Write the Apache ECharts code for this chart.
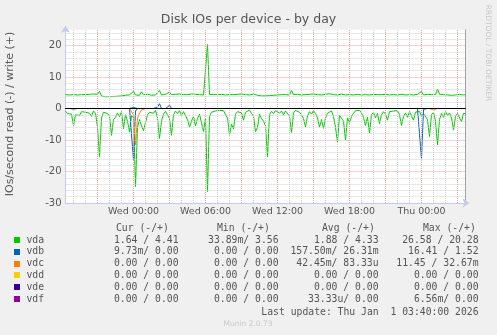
<!DOCTYPE html>
<html><head><meta charset="utf-8">
<script src="https://cdn.jsdelivr.net/npm/echarts@6/dist/echarts.min.js"></script>
<style>html,body{margin:0;padding:0;background:#f0f0f0;}#c{width:497px;height:335px;}</style>
</head><body><div id="c"></div>
<script>
// ---- time base (hours relative to Wed 00:00), 10-minute samples ----
const startHour = -17 / 3;   // Tue 18:20
const endHour = 83 / 3;      // Thu 03:40
const stepHours = 1 / 6;

// ---- vda (IOs/s): read plotted downward, write upward ----
const vdaRead = [
  0.8, 1.6, 1.2, 1.8, 5.4, 2.0, 2.6, 2.2, 1.0, 0.7,
  1.2, 0.6, 1.5, 2.5, 0.8, 1.5, 6.0, 15.3, 3.0, 1.2,
  0.7, 1.6, 2.4, 8.5, 3.5, 2.8, 1.4, 2.6, 1.0, 6.4,
  2.0, 4.0, 7.5, 2.2, 3.0, 24.8, 6.0, 3.5, 5.5, 7.0,
  4.5, 2.0, 1.2, 0.8, 1.5, 0.6, 3.0, 9.5, 4.0, 1.8,
  0.9, 1.4, 3.2, 8.5, 2.0, 0.8, 1.6, 0.7, 2.2, 1.0,
  1.4, 3.5, 5.9, 4.0, 2.5, 5.5, 3.2, 1.8, 2.0, 7.3,
  3.0, 26.4, 2.5, 1.2, 1.6, 0.8, 1.3, 0.6, 1.0, 0.7,
  1.2, 3.0, 8.5, 5.0, 6.5, 1.8, 1.0, 0.6, 1.4, 3.7,
  1.2, 0.7, 0.5, 1.6, 2.5, 7.3, 6.0, 1.8, 3.2, 4.0,
  5.5, 15.3, 2.0, 0.9, 1.6, 0.7, 1.2, 1.5, 0.8, 2.0,
  0.8, 1.0, 2.4, 7.6, 1.4, 0.6, 0.9, 1.2, 2.0, 3.2,
  5.9, 2.4, 1.0, 1.8, 0.7, 1.6, 3.0, 5.9, 3.5, 6.3,
  3.0, 1.5, 1.0, 0.8, 2.5, 6.0, 10.6, 2.2, 1.6, 4.0,
  10.0, 3.0, 4.7, 2.5, 1.5, 0.7, 1.0, 0.6, 1.4, 2.8,
  5.4, 2.8, 7.8, 2.0, 1.2, 3.0, 1.6, 4.8, 2.0, 1.0,
  1.8, 3.7, 1.0, 0.6, 0.8, 1.2, 0.7, 2.0, 5.4, 2.5,
  1.4, 2.8, 1.0, 1.6, 3.7, 1.2, 1.8, 0.9, 2.5, 1.6,
  1.0, 3.5, 8.9, 2.0, 1.2, 4.0, 11.6, 3.5, 1.6, 2.8,
  1.0, 2.2, 1.4, 3.0, 6.8, 2.5, 1.6, 2.0, 4.2, 1.5, 1.64
];
const vdaWrite = [
  4.4, 4.5, 4.3, 4.6, 4.4, 4.5, 4.3, 4.5, 4.4, 4.6,
  4.4, 4.3, 4.5, 4.4, 4.6, 4.4, 4.5, 5.4, 4.0, 3.8,
  3.7, 3.9, 3.8, 4.0, 3.8, 4.1, 3.9, 3.8, 4.0, 3.9,
  4.2, 4.0, 4.3, 4.4, 5.5, 4.3, 4.4, 4.2, 5.3, 4.4,
  4.3, 4.5, 4.4, 4.2, 4.4, 4.3, 4.5, 5.7, 4.3, 4.4,
  4.5, 4.3, 5.2, 4.4, 4.3, 4.5, 4.4, 4.6, 4.3, 4.4,
  4.5, 4.4, 4.3, 4.6, 4.4, 4.5, 4.3, 4.4, 4.5, 4.3,
  4.6, 20.3, 4.5, 4.3, 4.4, 4.6, 4.4, 4.3, 4.5, 4.4,
  4.3, 4.5, 4.4, 4.8, 4.4, 4.3, 4.5, 4.4, 4.6, 4.3,
  4.4, 4.5, 4.3, 4.4, 4.6, 4.4, 4.2, 4.1, 4.0, 4.2,
  4.0, 4.3, 4.1, 4.0, 4.2, 4.1, 4.3, 4.2, 4.4, 4.3,
  4.4, 4.5, 4.3, 5.7, 4.4, 4.3, 4.5, 4.4, 4.3, 4.6,
  4.4, 4.3, 4.5, 4.4, 4.6, 4.3, 4.4, 4.5, 4.3, 4.4,
  4.5, 4.4, 4.7, 4.3, 4.4, 4.5, 4.3, 4.4, 4.6, 4.4,
  4.3, 4.5, 4.4, 4.6, 4.3, 4.4, 4.5, 4.4, 4.3, 4.5,
  4.4, 4.6, 4.3, 4.4, 4.5, 4.3, 4.4, 4.6, 4.4, 4.3,
  4.5, 4.4, 4.3, 4.7, 4.4, 4.5, 4.3, 4.4, 4.5, 4.4,
  4.3, 4.5, 4.4, 4.6, 4.3, 4.4, 4.5, 4.4, 5.4, 4.3,
  4.4, 4.5, 4.3, 4.4, 4.6, 4.4, 6.2, 4.5, 4.3, 4.4,
  4.5, 4.3, 4.4, 4.2, 4.0, 4.3, 4.4, 4.5, 4.2, 4.3, 4.41
];
// ---- vdb ----
const vdbRead = [
  0, 0.3, 0, 0, 0.2, 0, 0, 0, 0, 0,
  0, 0, 0, 0, 0, 0, 0, 0, 0, 0,
  0, 0, 0, 0, 0, 0, 0, 0, 0, 0,
  0, 0, 0, 0.5, 16.4, 0.8, 0, 0, 0, 0,
  0, 0, 0, 0, 0, 0, 0, 0, 0, 0,
  0, 0, 0, 0, 0, 0, 0, 0, 0, 0,
  0, 0, 0, 0, 0, 0, 0, 0, 0, 0,
  0, 0, 0, 0, 0, 0, 0, 0, 0, 0,
  0, 0, 0, 0, 0, 0, 0, 0, 0, 0,
  0, 0, 0, 0, 0, 0, 0, 0, 0, 0,
  0, 0, 0, 0, 0, 0, 0, 0, 0, 0,
  0, 0, 0, 0, 0, 0, 0, 0, 0, 0,
  0, 0, 0, 0, 0, 0, 0, 0, 0, 0,
  0, 0, 0, 0, 0, 0, 0, 0, 0, 0,
  0, 0, 0, 0, 0, 0, 0, 0, 0, 0,
  0, 0, 0, 0, 0, 0, 0, 0, 0, 0,
  0, 0, 0, 0, 0, 0, 0, 0, 0, 0,
  0, 0, 0, 0, 0, 0, 0, 0.4, 16.1, 0.3,
  0, 0, 0, 0, 0, 0, 0, 0, 0, 0,
  0, 0, 0, 0, 0, 0, 0, 0, 0, 0, 0.01
];
const vdbWrite = [
  0, 0, 0, 0, 0, 0, 0, 0, 0, 0,
  0, 0, 0, 0, 0, 0, 0, 0, 0, 0,
  0, 0, 0, 0, 0, 0, 0, 0, 0, 0,
  0, 0, 0, 0, 0.3, 0, 0, 0, 0, 0,
  0, 0, 0, 0, 0, 0, 0.5, 1.52, 0, 0,
  0, 0, 1.0, 0, 0, 0, 0, 0, 0, 0,
  0, 0, 0, 0, 0, 0, 0, 0, 0, 0,
  0, 0, 0, 0, 0, 0, 0, 0, 0, 0,
  0, 0, 0, 0, 0, 0, 0, 0, 0, 0,
  0, 0, 0, 0, 0, 0, 0, 0, 0, 0,
  0, 0, 0, 0, 0, 0, 0, 0, 0, 0,
  0, 0, 0, 0, 0, 0, 0, 0, 0, 0,
  0, 0, 0, 0, 0, 0, 0, 0, 0, 0,
  0, 0, 0, 0, 0, 0, 0, 0, 0, 0,
  0, 0, 0, 0, 0, 0, 0, 0, 0, 0,
  0, 0, 0, 0, 0, 0, 0, 0, 0, 0,
  0, 0, 0, 0, 0, 0, 0, 0, 0, 0,
  0, 0, 0, 0, 0, 0, 0, 0, 0, 0,
  0, 0, 0, 0, 0, 0, 0, 0, 0, 0,
  0, 0, 0, 0, 0, 0, 0, 0, 0, 0, 0
];
// ---- vdc ----
const vdcRead = [
  0, 0, 0, 0, 0, 0, 0, 0, 0, 0,
  0, 0, 0, 0, 0, 0, 0, 0, 0, 0,
  0, 0, 0, 0, 0, 0, 0, 0, 0, 0,
  0, 0, 0, 0, 2.0, 11.45, 3.0, 1.5, 0.5, 1.0,
  0, 0, 0, 0, 0, 0, 0, 0, 0, 0,
  0, 0, 0, 0, 0, 0, 0, 0, 0, 0,
  0, 0, 0, 0, 0, 0, 0, 0, 0, 0,
  0, 0, 0, 0, 0, 0, 0, 0, 0, 0,
  0, 0, 0, 0, 0, 0, 0, 0, 0, 0,
  0, 0, 0, 0, 0, 0, 0, 0, 0, 0,
  0, 0, 0, 0, 0, 0, 0, 0, 0, 0,
  0, 0, 0, 0, 0, 0, 0, 0, 0, 0,
  0, 0, 0, 0, 0, 0, 0, 0, 0, 0,
  0, 0, 0, 0, 0, 0, 0, 0, 0, 0,
  0, 0, 0, 0, 0, 0, 0, 0, 0, 0,
  0, 0, 0, 0, 0, 0, 0, 0, 0, 0,
  0, 0, 0, 0, 0, 0, 0, 0, 0, 0,
  0, 0, 0, 0, 0, 0, 0, 0, 0, 0,
  0, 0, 0, 0, 0.5, 0, 0, 0, 0, 0,
  0, 0, 0, 0, 0, 0, 0, 0, 0, 0, 0
];
// vdc write, vdd, vde, vdf: flat at zero over the whole window
const edgeHours = [startHour, endHour];
const vdcWrite = [0, 0];
const vddRead = [0, 0];
const vddWrite = [0, 0];
const vdeRead = [0, 0];
const vdeWrite = [0, 0];
const vdfRead = [0, 0];
const vdfWrite = [0, 0];

// ---- axes ----
const xTickHours = [0, 6, 12, 18, 24];
const xTickLabels = ['Wed 00:00', 'Wed 06:00', 'Wed 12:00', 'Wed 18:00', 'Thu 00:00'];
const yTickValues = [-30, -20, -10, 0, 10, 20];
const hourGrid = [-5,-4,-2,-1,1,2,4,5,7,8,10,11,13,14,16,17,19,20,22,23,25,26];
const threeHourGrid = [-3, 0, 3, 6, 9, 12, 15, 18, 21, 24, 27];
const yMinorGrid = [-28,-26,-24,-22,-18,-16,-14,-12,-8,-6,-4,-2,2,4,6,8,12,14,16,18,22,24];
const yMajorGrid = [-20, -10, 10, 20];

// ---- legend table ----
const legendNames = ['vda', 'vdb', 'vdc', 'vdd', 'vde', 'vdf'];
const curCol = ['1.64 / 4.41', '9.73m/ 0.00', '0.00 / 0.00', '0.00 / 0.00', '0.00 / 0.00', '0.00 / 0.00'];
const minCol = ['33.89m/ 3.56', '0.00 / 0.00', '0.00 / 0.00', '0.00 / 0.00', '0.00 / 0.00', '0.00 / 0.00'];
const avgCol = ['1.88 / 4.33', '157.50m/ 26.31m', '42.45m/ 83.33u', '0.00 / 0.00', '0.00 / 0.00', '33.33u/ 0.00'];
const maxCol = ['26.58 / 20.28', '16.41 / 1.52', '11.45 / 32.67m', '0.00 / 0.00', '0.00 / 0.00', '6.56m/ 0.00'];
const colHeaders = ['Cur (-/+)', 'Min (-/+)', 'Avg (-/+)', 'Max (-/+)'];
const lastUpdate = 'Last update: Thu Jan  1 03:40:00 2026';

// ---- style ----
const COLORS = ['#00cc00', '#0066b3', '#ff8000', '#ffcc00', '#330099', '#990099'];
const TXT = '#555';
const MONO = '"DejaVu Sans Mono", monospace';
const SANS = '"DejaVu Sans", sans-serif';

const hours = vdaRead.map((_, i) => startHour + i * stepHours);
const pair = (xs, ys, sign) => ys.map((v, i) => [xs[i], sign * v]);

function lineSeries(name, data, color, z, extra) {
  return Object.assign({
    name, type: 'line', data, showSymbol: false, symbol: 'none',
    lineStyle: { color, width: 1 }, itemStyle: { color },
    animation: false, silent: true, z
  }, extra || {});
}

const minorStyle = { color: '#d2d2d2', width: 1, type: [1, 1] };
const majorStyle = { color: '#eca2a2', width: 1, type: [1, 1] };
const gridLines = []
  .concat(hourGrid.map(h => ({ xAxis: h, lineStyle: minorStyle })))
  .concat(yMinorGrid.map(v => ({ yAxis: v, lineStyle: minorStyle })))
  .concat(threeHourGrid.map(h => ({ xAxis: h, lineStyle: majorStyle })))
  .concat(yMajorGrid.map(v => ({ yAxis: v, lineStyle: majorStyle })));

const series = [
  {
    type: 'line', data: [], silent: true, z: 1, animation: false,
    markLine: { silent: true, symbol: 'none', label: { show: false }, animation: false, data: gridLines }
  },
  lineSeries('vda', pair(hours, vdaRead, -1), COLORS[0], 2),
  lineSeries('vda', pair(hours, vdaWrite, 1), COLORS[0], 2, {
    markLine: { silent: true, symbol: 'none', label: { show: false }, animation: false,
      data: [{ yAxis: 0, lineStyle: { color: '#000', width: 1, type: 'solid' } }] }
  }),
  lineSeries('vdb', pair(hours, vdbRead, -1), COLORS[1], 3),
  lineSeries('vdb', pair(hours, vdbWrite, 1), COLORS[1], 3),
  lineSeries('vdc', pair(hours, vdcRead, -1), COLORS[2], 3),
  lineSeries('vdc', pair(edgeHours, vdcWrite, 1), COLORS[2], 3),
  lineSeries('vdd', pair(edgeHours, vddRead, -1), COLORS[3], 3),
  lineSeries('vdd', pair(edgeHours, vddWrite, 1), COLORS[3], 3),
  lineSeries('vde', pair(edgeHours, vdeRead, -1), COLORS[4], 3),
  lineSeries('vde', pair(edgeHours, vdeWrite, 1), COLORS[4], 3),
  lineSeries('vdf', pair(edgeHours, vdfRead, -1), COLORS[5], 3),
  lineSeries('vdf', pair(edgeHours, vdfWrite, 1), COLORS[5], 3)
];

// legend graphics
const graphics = [];
graphics.push({ type: 'text', x: 248.5, y: 19.5, silent: true,
  style: { text: 'Disk IOs per device - by day', font: '12.5px ' + SANS, fill: TXT, align: 'center', verticalAlign: 'middle' } });
graphics.push({ type: 'text', x: 10, y: 114, rotation: Math.PI / 2, silent: true,
  style: { text: 'IOs/second read (-) / write (+)', font: '11px ' + SANS, fill: TXT, align: 'center', verticalAlign: 'middle' } });
graphics.push({ type: 'text', x: 488, y: 53, rotation: -Math.PI / 2, silent: true,
  style: { text: 'RRDTOOL / TOBI OETIKER', font: '7.5px ' + SANS, fill: '#c8c8c8', align: 'center', verticalAlign: 'middle' } });

const headerX = [116, 217, 322, 423];
colHeaders.forEach((h, k) => graphics.push({ type: 'text', x: headerX[k], y: 228, silent: true,
  style: { text: h, font: '9.75px ' + MONO, fill: TXT, align: 'left', verticalAlign: 'middle' } }));
const colRight = [178.5, 278.5, 378.5, 478.5];
const cols = [curCol, minCol, avgCol, maxCol];
legendNames.forEach((n, r) => {
  const y = 240 + r * 11.8;
  graphics.push({ type: 'rect', silent: true, shape: { x: 14, y: Math.round(y) - 3, width: 6, height: 6 }, style: { fill: COLORS[r] } });
  graphics.push({ type: 'text', x: 26.5, y, silent: true,
    style: { text: n, font: '9.75px ' + MONO, fill: TXT, align: 'left', verticalAlign: 'middle' } });
  cols.forEach((c, k) => graphics.push({ type: 'text', x: colRight[k], y, silent: true,
    style: { text: c[r], font: '9.75px ' + MONO, fill: TXT, align: 'right', verticalAlign: 'middle' } }));
});
graphics.push({ type: 'text', x: 478.5, y: 312, silent: true,
  style: { text: lastUpdate, font: '9.75px ' + MONO, fill: TXT, align: 'right', verticalAlign: 'middle' } });
graphics.push({ type: 'text', x: 248, y: 324, silent: true,
  style: { text: 'Munin 2.0.73', font: '7.5px ' + SANS, fill: '#c8c8c8', align: 'center', verticalAlign: 'middle' } });

const chart = echarts.init(document.getElementById('c'), null, { renderer: 'canvas' });
chart.setOption({
  backgroundColor: '#f0f0f0',
  animation: false,
  grid: { left: 65.5, right: 31.5, top: 29.75, bottom: 132, show: true, backgroundColor: '#ffffff', borderWidth: 0 },
  xAxis: {
    type: 'value', min: startHour, max: endHour,
    axisLine: { show: true, onZero: false, lineStyle: { color: '#c4cbee', width: 1 }, symbol: ['none', 'arrow'], symbolSize: [7, 7], symbolOffset: [0, 4] },
    axisTick: { show: false },
    splitLine: { show: false },
    axisLabel: {
      customValues: xTickHours, margin: 4, color: TXT, fontSize: 9.5, fontFamily: 'DejaVu Sans',
      formatter: v => xTickLabels[xTickHours.indexOf(v)] || ''
    }
  },
  yAxis: [{
    type: 'value', min: -30, max: 25,
    axisLine: { show: true, onZero: false, lineStyle: { color: '#c4cbee', width: 1 }, symbol: ['none', 'arrow'], symbolSize: [7, 7], symbolOffset: [0, 4] },
    axisTick: { show: false },
    splitLine: { show: false },
    axisLabel: { customValues: yTickValues, margin: 4, color: TXT, fontSize: 10, fontFamily: 'DejaVu Sans' }
  }, {
    type: 'value', min: -30, max: 25, position: 'right',
    axisLine: { show: true, onZero: false, lineStyle: { color: '#a0a0a0', width: 1 } },
    axisTick: { show: false }, splitLine: { show: false }, axisLabel: { show: false }
  }],
  series,
  graphic: graphics
});
</script>
</body></html>
